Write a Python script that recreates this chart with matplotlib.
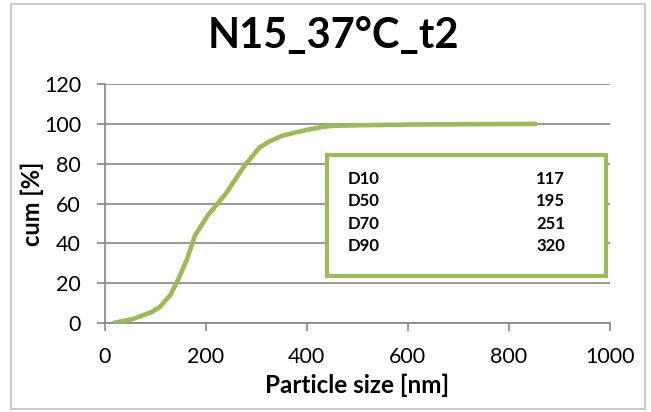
import matplotlib.pyplot as plt
from matplotlib.patches import Rectangle

# cumulative particle size distribution
size_nm = [17, 56, 93, 109, 130, 146, 163, 179, 204, 240, 277, 306, 325, 351, 380, 401, 430, 450, 500, 614, 856]
cum_pct = [0, 2, 5.5, 8, 14, 22, 32, 44, 54, 65, 79, 88, 91, 94, 95.8, 97, 98.4, 99, 99.3, 99.7, 100]

d_labels = ['D10', 'D50', 'D70', 'D90']
d_values = [117, 195, 251, 320]

green = '#9BBB59'
grey = '#868686'
plt.rcParams['font.family'] = ['Lato', 'DejaVu Sans']

fig = plt.figure(figsize=(6.51, 4.12), dpi=100)
ax = fig.add_axes([0.1607, 0.216, 0.776, 0.58])

ax.plot(size_nm, cum_pct, color=green, lw=3.3, solid_capstyle='butt',
        solid_joinstyle='round', zorder=3)

ax.set_xlim(0, 1000)
ax.set_ylim(0, 120)
ax.set_xticks(range(0, 1001, 200))
ax.set_yticks(range(0, 121, 20))
ax.grid(True, axis='y', color=grey, lw=1.2)
ax.set_axisbelow(True)
for s in ['top', 'right']:
    ax.spines[s].set_visible(False)
for s in ['left', 'bottom']:
    ax.spines[s].set_color(grey)
    ax.spines[s].set_linewidth(1.2)
ax.tick_params(axis='both', colors=grey, length=6, width=1.2, labelsize=15.5, labelcolor='black')
ax.tick_params(axis='y', pad=11)
ax.tick_params(axis='x', pad=11)

fig.text(333 / 651, 1 - 36 / 412, 'N15_37°C_t2', fontsize=30, fontweight='bold',
         ha='center', va='center')
ax.set_xlabel('Particle size [nm]', fontsize=17.5, fontweight='bold', labelpad=5)
ax.set_ylabel('cum [%]', fontsize=17, fontweight='bold', labelpad=0)

# inset box with D values
ax.add_patch(Rectangle((440, 23.5), 552, 61, fill=True, facecolor='white',
                       edgecolor=green, lw=3, zorder=4))
for i, (lab, val) in enumerate(zip(d_labels, d_values)):
    yy = 72.5 - i * 11.3
    ax.text(482, yy, lab, fontsize=12, fontweight='bold', va='center', zorder=5)
    ax.text(911, yy, str(val), fontsize=12, fontweight='bold', va='center', ha='right', zorder=5)

# outer chart border
fig.patches.append(Rectangle((11 / 651, 3 / 412), 634 / 651, 405 / 412, transform=fig.transFigure,
                             fill=False, edgecolor='#BFBFBF', lw=1.2))

fig.savefig('out.png', dpi=100)
